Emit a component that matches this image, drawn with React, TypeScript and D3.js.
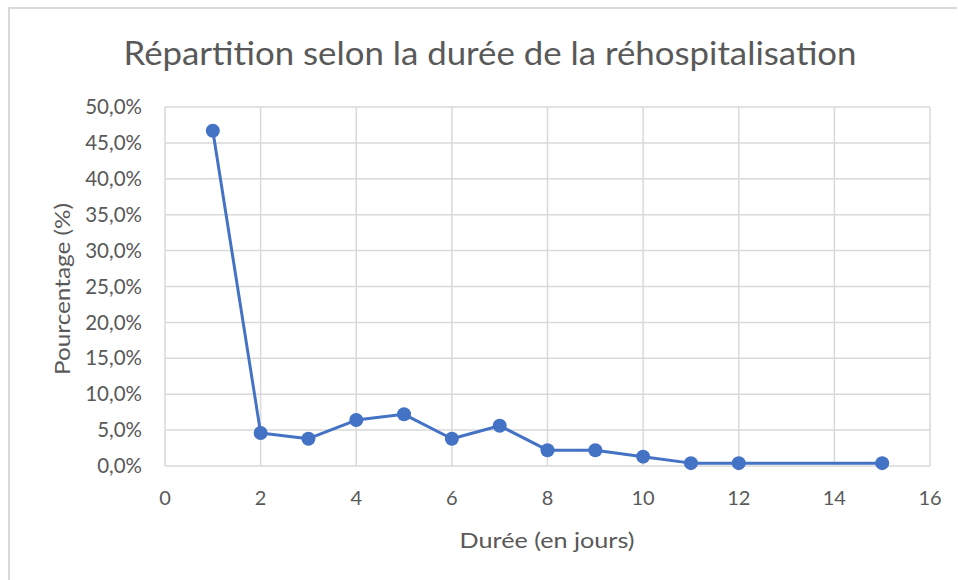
import React from "react";
import * as d3 from "d3";

const durations = [1, 2, 3, 4, 5, 6, 7, 8, 9, 10, 11, 12, 15];
const percentages = [46.7, 4.6, 3.8, 6.4, 7.2, 3.8, 5.6, 2.2, 2.2, 1.3, 0.4, 0.4, 0.4];
const xTicks = [0, 2, 4, 6, 8, 10, 12, 14, 16];
const yTicks = [0, 5, 10, 15, 20, 25, 30, 35, 40, 45, 50];
const title = "Répartition selon la durée de la réhospitalisation";
const xTitle = "Durée (en jours)";
const yTitle = "Pourcentage (%)";

const W = 958;
const H = 580;
const left = 165;
const right = 930;
const top = 107;
const bottom = 466;
const textColor = "#595959";
const font = "Lato, 'Noto Sans', sans-serif";

export default function App() {
  const x = d3.scaleLinear().domain([0, 16]).range([left, right]);
  const y = d3.scaleLinear().domain([0, 50]).range([bottom, top]);
  const pts = durations.map((d, i) => [d, percentages[i]] as [number, number]);
  const line = d3.line<[number, number]>().x((d) => x(d[0])).y((d) => y(d[1]));
  const fmt = (v: number) => v.toFixed(1).replace(".", ",") + "%";

  return (
    <svg width={W} height={H} style={{ position: "absolute", left: 0, top: 0, background: "#fff" }}>
      <rect x={0} y={0} width={W} height={H} fill="#fff" />
      <line x1={8} x2={957} y1={8} y2={8} stroke="#d9d9d9" strokeWidth={2} />
      <line x1={9} x2={9} y1={8} y2={H} stroke="#d9d9d9" strokeWidth={2} />
      <text x={490} y={65} textAnchor="middle" fontFamily={font} fontSize={32} fill={textColor}
        textLength={733} lengthAdjust="spacingAndGlyphs">
        {title}
      </text>
      {yTicks.map((t) => (
        <line key={"gy" + t} x1={left} x2={right} y1={y(t)} y2={y(t)} stroke="#d9d9d9" strokeWidth={1.5} />
      ))}
      {xTicks.map((t) => (
        <line key={"gx" + t} x1={x(t)} x2={x(t)} y1={top} y2={bottom} stroke="#d9d9d9" strokeWidth={1.5} />
      ))}
      {yTicks.map((t) => (
        <text key={"ty" + t} x={142} y={y(t)} dy="0.35em" textAnchor="end" fontFamily={font} fontSize={20.5} fill={textColor}>
          {fmt(t)}
        </text>
      ))}
      {xTicks.map((t) => (
        <text key={"tx" + t} x={x(t)} y={498} dy="0.35em" textAnchor="middle" fontFamily={font} fontSize={20} fill={textColor}>
          {t}
        </text>
      ))}
      <text x={547} y={540} dy="0.35em" textAnchor="middle" fontFamily={font} fontSize={22} fill={textColor}
        textLength={175} lengthAdjust="spacingAndGlyphs">
        {xTitle}
      </text>
      <text
        transform={`translate(62,289) rotate(-90)`}
        dy="0.35em"
        textAnchor="middle"
        fontFamily={font}
        fontSize={22}
        fill={textColor}
        textLength={172}
        lengthAdjust="spacingAndGlyphs"
      >
        {yTitle}
      </text>
      <path d={line(pts) || ""} fill="none" stroke="#4472C4" strokeWidth={3} strokeLinejoin="round" />
      {pts.map((p, i) => (
        <circle key={i} cx={x(p[0])} cy={y(p[1])} r={7} fill="#4472C4" />
      ))}
    </svg>
  );
}
